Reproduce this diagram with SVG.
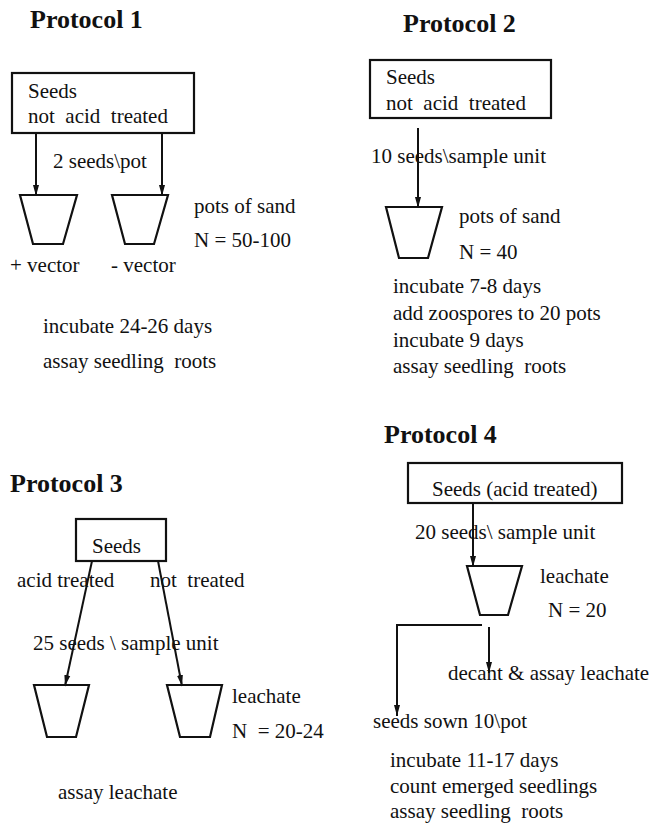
<svg xmlns="http://www.w3.org/2000/svg" width="653" height="823" viewBox="0 0 653 823">
<style>
.t{font-family:"Liberation Serif","Times New Roman",serif;font-weight:bold;font-size:26px;fill:#111}
.b{font-family:"Liberation Serif","Times New Roman",serif;font-size:21px;fill:#111;white-space:pre}
.box{fill:#fff;stroke:#111;stroke-width:2.2}
.pot{fill:#fff;stroke:#111;stroke-width:2.2;stroke-linejoin:miter}
.c{fill:none;stroke:#111;stroke-width:2}
.a{marker-end:url(#ah)}
</style>
<defs>
<marker id="ah" markerUnits="userSpaceOnUse" markerWidth="12" markerHeight="7" refX="11" refY="3.5" orient="auto">
<path d="M0,0.5 L11,3.5 L0,6.5 z" fill="#111"/>
</marker>
</defs>
<rect width="653" height="823" fill="#fff"/>

<!-- Protocol 1 -->
<g id="p1-title"><text class="t" x="30" y="28">Protocol 1</text></g>
<g id="p1-seeds">
<rect class="box" x="12" y="73" width="182" height="60"/>
<text class="b" x="28" y="98">Seeds</text>
<text class="b" x="28" y="123" xml:space="preserve">not  acid  treated</text>
</g>
<g id="p1-pot1">
<polygon class="pot" points="20,195 77,195 63,244 33,244"/>
<text class="b" x="10" y="272">+ vector</text>
</g>
<g id="p1-pot2">
<polygon class="pot" points="112,195 168,195 154,244 125,244"/>
<text class="b" x="111" y="272">- vector</text>
</g>
<g id="p1-notes">
<text class="b" x="194" y="213">pots of sand</text>
<text class="b" x="194" y="247">N = 50-100</text>
<text class="b" x="43" y="333">incubate 24-26 days</text>
<text class="b" x="43" y="368" xml:space="preserve">assay seedling  roots</text>
</g>

<!-- Protocol 2 -->
<g id="p2-title"><text class="t" x="403" y="32">Protocol 2</text></g>
<g id="p2-seeds">
<rect class="box" x="370" y="60" width="181" height="58"/>
<text class="b" x="386" y="84">Seeds</text>
<text class="b" x="386" y="110" xml:space="preserve">not  acid  treated</text>
</g>
<g id="p2-pot">
<polygon class="pot" points="386,207 442,207 428,258 399,258"/>
</g>
<g id="p2-notes">
<text class="b" x="459" y="223">pots of sand</text>
<text class="b" x="459" y="259">N = 40</text>
<text class="b" x="393" y="293">incubate 7-8 days</text>
<text class="b" x="393" y="320">add zoospores to 20 pots</text>
<text class="b" x="393" y="347">incubate 9 days</text>
<text class="b" x="393" y="373" xml:space="preserve">assay seedling  roots</text>
</g>

<!-- Protocol 3 -->
<g id="p3-title"><text class="t" x="10" y="492">Protocol 3</text></g>
<g id="p3-seeds">
<rect class="box" x="76" y="519" width="90" height="42"/>
<text class="b" x="92" y="553">Seeds</text>
</g>
<g id="p3-pot1">
<polygon class="pot" points="34,685 89,685 76,737 47,737"/>
</g>
<g id="p3-pot2">
<polygon class="pot" points="167,685 222,685 210,737 180,737"/>
</g>
<g id="p3-notes">
<text class="b" x="232" y="703">leachate</text>
<text class="b" x="232" y="738" xml:space="preserve">N  = 20-24</text>
<text class="b" x="58" y="799">assay leachate</text>
</g>

<!-- Protocol 4 -->
<g id="p4-title"><text class="t" x="384" y="443">Protocol 4</text></g>
<g id="p4-seeds">
<rect class="box" x="408" y="463" width="214" height="40"/>
<text class="b" x="432" y="496">Seeds (acid treated)</text>
</g>
<g id="p4-pot">
<polygon class="pot" points="467,566 522,566 508,615 480,615"/>
</g>
<g id="p4-notes">
<text class="b" x="540" y="583">leachate</text>
<text class="b" x="548" y="617">N = 20</text>
<text class="b" x="448" y="680">decant &amp; assay leachate</text>
<text class="b" x="373" y="728">seeds sown 10\pot</text>
<text class="b" x="390" y="767">incubate 11-17 days</text>
<text class="b" x="390" y="793">count emerged seedlings</text>
<text class="b" x="390" y="818" xml:space="preserve">assay seedling  roots</text>
</g>

<!-- connectors -->
<g id="connectors">
<line class="c a" x1="36" y1="133" x2="36" y2="196"/>
<line class="c a" x1="162" y1="133" x2="162" y2="196"/>
<line class="c a" x1="418" y1="128" x2="418" y2="208"/>
<line class="c a" x1="92" y1="561" x2="65" y2="686"/>
<line class="c a" x1="158" y1="561" x2="182" y2="686"/>
<line class="c a" x1="473" y1="503" x2="473" y2="567"/>
<polyline class="c a" points="482,625 397,625 397,716"/>
<line class="c a" x1="489" y1="627" x2="489" y2="673"/>
</g>
<g id="connector-labels">
<text class="b" x="53" y="168">2 seeds\pot</text>
<text class="b" x="371" y="163">10 seeds\sample unit</text>
<text class="b" x="17" y="587">acid treated</text>
<text class="b" x="150" y="587" xml:space="preserve">not  treated</text>
<text class="b" x="33" y="650">25 seeds \ sample unit</text>
<text class="b" x="415" y="539">20 seeds\ sample unit</text>
</g>
</svg>
